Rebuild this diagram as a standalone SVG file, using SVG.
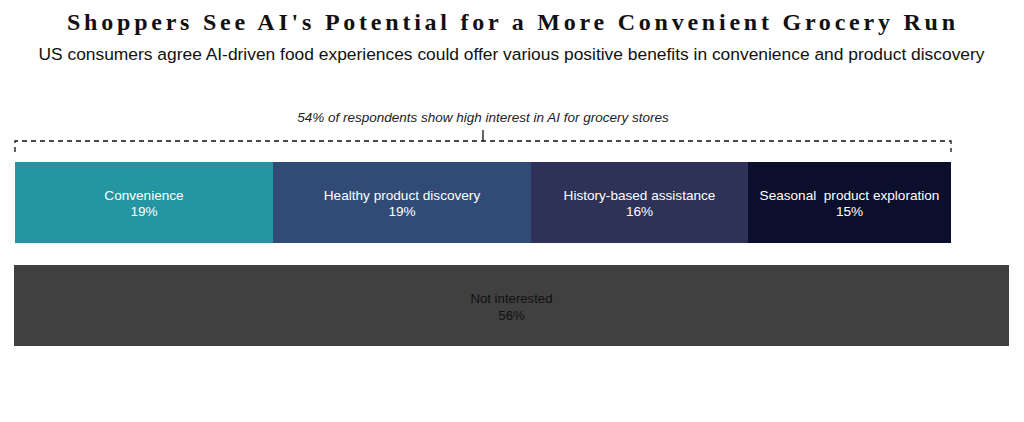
<svg xmlns="http://www.w3.org/2000/svg" width="1024" height="422" viewBox="0 0 1024 422">
  <style>
    .title { font-family: "Liberation Serif", "DejaVu Serif", serif; font-size: 24px; font-weight: 700; fill: #111; }
    .sub { font-family: "Liberation Sans", Arial, sans-serif; font-size: 17.4px; fill: #111; }
    .note { font-family: "Liberation Sans", Arial, sans-serif; font-size: 13.5px; font-style: italic; fill: #222; }
    .lbl { font-family: "Liberation Sans", Arial, sans-serif; font-size: 13.6px; fill: #fff; text-anchor: middle; white-space: pre; }
    .lbl-dark { font-family: "Liberation Sans", Arial, sans-serif; font-size: 13.2px; fill: #111; text-anchor: middle; }
    .bracket { fill: none; stroke: #111; stroke-width: 1.3; stroke-dasharray: 5 4; }
    .tick { fill: none; stroke: #111; stroke-width: 1.3; }
  </style>
  <rect width="1024" height="422" fill="#fff"/>
  <text class="title" x="67" y="30" textLength="888" lengthAdjust="spacing">Shoppers See AI's Potential for a More Convenient Grocery Run</text>
  <text class="sub" x="511.5" y="60" text-anchor="middle">US consumers agree AI-driven food experiences could offer various positive benefits in convenience and product discovery</text>

  <g id="connectors">
    <text class="note" x="483" y="122" text-anchor="middle">54% of respondents show high interest in AI for grocery stores</text>
    <path class="bracket" d="M15 152 V141 H951 V152"/>
    <path class="tick" d="M483 130 V141"/>
  </g>

  <g id="convenience">
    <rect x="15" y="162" width="258" height="81" fill="#2495A1"/>
    <text class="lbl" x="144" y="200">Convenience</text>
    <text class="lbl" x="144" y="216">19%</text>
  </g>
  <g id="healthy">
    <rect x="273" y="162" width="258" height="81" fill="#314B77"/>
    <text class="lbl" x="402" y="200">Healthy product discovery</text>
    <text class="lbl" x="402" y="216">19%</text>
  </g>
  <g id="history">
    <rect x="531" y="162" width="217" height="81" fill="#2E3258"/>
    <text class="lbl" x="639.5" y="200">History-based assistance</text>
    <text class="lbl" x="639.5" y="216">16%</text>
  </g>
  <g id="seasonal">
    <rect x="748" y="162" width="203" height="81" fill="#0B0F2B"/>
    <text class="lbl" x="849.5" y="200">Seasonal  product exploration</text>
    <text class="lbl" x="849.5" y="216">15%</text>
  </g>
  <g id="not-interested">
    <rect x="14" y="265" width="995" height="81" fill="#404040"/>
    <text class="lbl-dark" x="511.5" y="303">Not interested</text>
    <text class="lbl-dark" x="511.5" y="320">56%</text>
  </g>
</svg>
